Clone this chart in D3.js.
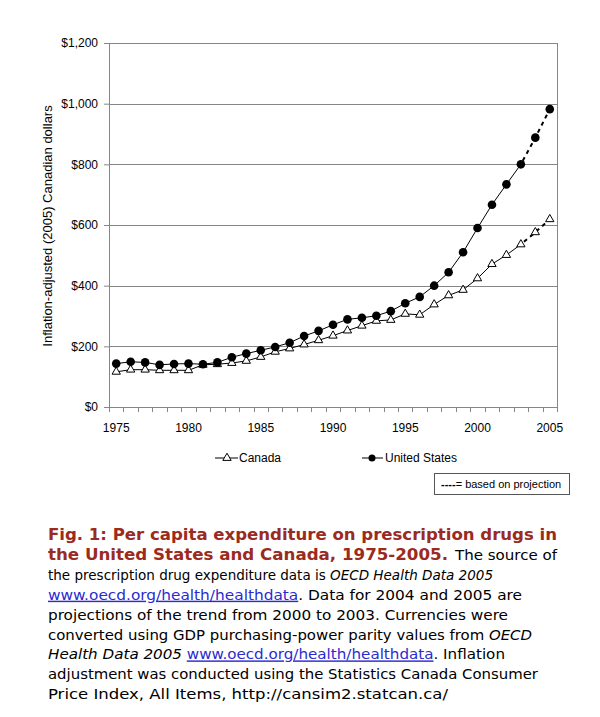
<!DOCTYPE html>
<html><head><meta charset="utf-8">
<script src="https://cdn.jsdelivr.net/npm/d3@7"></script>
<style>
html,body{margin:0;padding:0;background:#fff;}
svg{display:block;}
</style></head>
<body>
<svg id="chart" width="600" height="717"></svg>
<script>
// ---- data ----
const years = [1975,1976,1977,1978,1979,1980,1981,1982,1983,1984,1985,1986,1987,1988,1989,1990,
  1991,1992,1993,1994,1995,1996,1997,1998,1999,2000,2001,2002,2003,2004,2005];
const usValues = [143,149,147,139,142,143,141,147,164,176,187,198,212,234,251,271,
  289,294,301,316,342,363,400,444,510,590,667,734,800,888,982];
const canadaValues = [116,123,123,121,121,121,139,141,145,152,165,182,193,206,220,235,
  252,268,284,287,307,304,338,368,386,424,471,501,536,576,619];
const projectionStart = 2003;
const yTicks = [0,200,400,600,800,1000,1200];
const xLabels = [1975,1980,1985,1990,1995,2000,2005];
const yTitle = "Inflation-adjusted (2005) Canadian dollars";
const seriesNames = ["Canada","United States"];
const captionLines = [
  [{t:"Fig. 1: Per capita expenditure on prescription drugs in", s:"title"}],
  [{t:"the United States and Canada, 1975-2005.", s:"title"},{t:"The source of", s:"n"}],
  [{t:"the prescription drug expenditure data is ", s:"n"},{t:"OECD Health Data 2005", s:"i"}],
  [{t:"www.oecd.org/health/healthdata", s:"link"},{t:". Data for 2004 and 2005 are", s:"n"}],
  [{t:"projections of the trend from 2000 to 2003. Currencies were", s:"n"}],
  [{t:"converted using GDP purchasing-power parity values from ", s:"n"},{t:"OECD", s:"i"}],
  [{t:"Health Data 2005", s:"i"},{t:" ", s:"n"},{t:"www.oecd.org/health/healthdata", s:"link"},{t:". Inflation", s:"n"}],
  [{t:"adjustment was conducted using the Statistics Canada Consumer", s:"n"}],
  [{t:"Price Index, All Items, http://cansim2.statcan.ca/", s:"n"}]
];

// ---- layout ----
const svg = d3.select("#chart");
const pLeft = 109, pRight = 557, pTop = 43, pBottom = 407;
const x = d3.scaleBand().domain(years).range([pLeft, pRight]).padding(0);
const y = d3.scaleLinear().domain([0,1200]).range([pBottom, pTop]);
const grid = "#868686";
const chartFont = "'Liberation Sans', Arial, sans-serif";

// gridlines
svg.append("g").selectAll("line").data(yTicks.filter(d=>d>0)).join("line")
  .attr("x1", pLeft).attr("x2", pRight)
  .attr("y1", d=>Math.round(y(d))+0.5).attr("y2", d=>Math.round(y(d))+0.5)
  .attr("stroke", grid).attr("stroke-width", 1);
// right border
svg.append("line").attr("x1", pRight+0.5).attr("x2", pRight+0.5).attr("y1", pTop).attr("y2", pBottom)
  .attr("stroke", grid);

// y axis
const yAxis = d3.axisLeft(y).tickValues(yTicks).tickSize(5).tickPadding(6)
  .tickFormat(d => "$" + d3.format(",")(d));
const gy = svg.append("g").attr("transform", `translate(${pLeft},0)`).call(yAxis);
gy.attr("font-family", chartFont);
gy.select(".domain").attr("stroke", grid);
gy.selectAll(".tick line").attr("stroke", grid);
gy.selectAll(".tick text").attr("font-family", chartFont).attr("font-size", 12).attr("fill", "#000");

// x axis line and ticks at category boundaries
svg.append("line").attr("x1", pLeft).attr("x2", pRight).attr("y1", pBottom+0.5).attr("y2", pBottom+0.5)
  .attr("stroke", grid);
const boundaries = years.map(d => x(d)).concat([x(years[years.length-1]) + x.bandwidth()]);
svg.append("g").selectAll("line").data(boundaries).join("line")
  .attr("x1", d=>Math.round(d)+0.5).attr("x2", d=>Math.round(d)+0.5).attr("y1", pBottom).attr("y2", pBottom+5)
  .attr("stroke", grid);
svg.append("g").selectAll("text").data(xLabels).join("text")
  .attr("x", d => x(d) + x.bandwidth()/2).attr("y", 432)
  .attr("text-anchor","middle").attr("font-family", chartFont).attr("font-size", 12)
  .text(d=>d);

// y title
svg.append("text").attr("transform", "translate(52,226) rotate(-90)")
  .attr("text-anchor","middle").attr("font-family", chartFont).attr("font-size", 13)
  .text(yTitle);

// lines
const cx = d => x(d) + x.bandwidth()/2;
function drawSeries(vals) {
  const pts = years.map((yr,i)=>({yr, v: vals[i]}));
  const line = d3.line().x(d=>cx(d.yr)).y(d=>y(d.v));
  svg.append("path").datum(pts.filter(d=>d.yr<=projectionStart))
    .attr("d", line).attr("fill","none").attr("stroke","#000").attr("stroke-width",1);
  svg.append("path").datum(pts.filter(d=>d.yr>=projectionStart))
    .attr("d", line).attr("fill","none").attr("stroke","#000").attr("stroke-width",2)
    .attr("stroke-dasharray","4,4").attr("stroke-dashoffset", -4);
  return pts;
}
const caPts = drawSeries(canadaValues);
const usPts = drawSeries(usValues);

const tri = d3.symbol().type(d3.symbolTriangle).size(30);
svg.append("g").selectAll("path").data(caPts).join("path")
  .attr("d", tri).attr("transform", d=>`translate(${cx(d.yr)},${y(d.v)})`)
  .attr("fill","#fff").attr("stroke","#000").attr("stroke-width",1);
svg.append("g").selectAll("circle").data(usPts).join("circle")
  .attr("cx", d=>cx(d.yr)).attr("cy", d=>y(d.v)).attr("r", 4.3).attr("fill","#000");

// legend
const lg = svg.append("g").attr("font-family", chartFont).attr("font-size", 12);
lg.append("line").attr("x1",215).attr("x2",238).attr("y1",458).attr("y2",458).attr("stroke","#000");
lg.append("path").attr("d", tri).attr("transform","translate(227,458)").attr("fill","#fff").attr("stroke","#000");
lg.append("text").attr("x",239).attr("y",462).text(seriesNames[0]);
lg.append("line").attr("x1",362).attr("x2",383).attr("y1",458).attr("y2",458).attr("stroke","#000");
lg.append("circle").attr("cx",372).attr("cy",458).attr("r",3.5).attr("fill","#000");
lg.append("text").attr("x",385).attr("y",462).text(seriesNames[1]);

// projection box
svg.append("rect").attr("x",434.5).attr("y",473.5).attr("width",135).attr("height",21)
  .attr("fill","#fff").attr("stroke","#555");
const pt = svg.append("text").attr("x",441).attr("y",488).attr("font-family", chartFont).attr("font-size", 11);
pt.append("tspan").attr("font-weight","bold").text("----");
pt.append("tspan").text("= based on projection");

// caption layout: [x start, width] per text run group
const capGeom = [
  [[48,509]],
  [[48,400],[455,102]],
  [[48,445]],
  [[48,474]],
  [[48,460]],
  [[48,484]],
  [[48,457]],
  [[48,490]],
  [[48,400]]
];
const capFont = "'DejaVu Sans Condensed','DejaVu Sans','Noto Sans',sans-serif";
function styleSpan(s, kind) {
  if (kind === "title") s.attr("fill","#9b2a20").attr("font-weight","bold");
  else if (kind === "i") s.attr("font-style","italic").attr("fill","#000");
  else if (kind === "link") s.attr("fill","#2b2bd0").attr("text-decoration","underline");
  else s.attr("fill","#000");
}
captionLines.forEach((parts, i) => {
  const geom = capGeom[i];
  const baseY = 540 + i*19.9;
  const groups = geom.length === parts.length && geom.length > 1 ? parts.map(p=>[p]) : [parts];
  groups.forEach((g, gi) => {
    const isTitle = g[0].s === "title";
    const t = svg.append("text").attr("x", geom[gi][0]).attr("y", baseY)
      .attr("font-family", capFont).attr("font-size", isTitle ? 16 : 14.5)
      .attr("textLength", geom[gi][1]).attr("lengthAdjust","spacingAndGlyphs");
    g.forEach(p => styleSpan(t.append("tspan").text(p.t), p.s));
  });
});
</script>
</body></html>
